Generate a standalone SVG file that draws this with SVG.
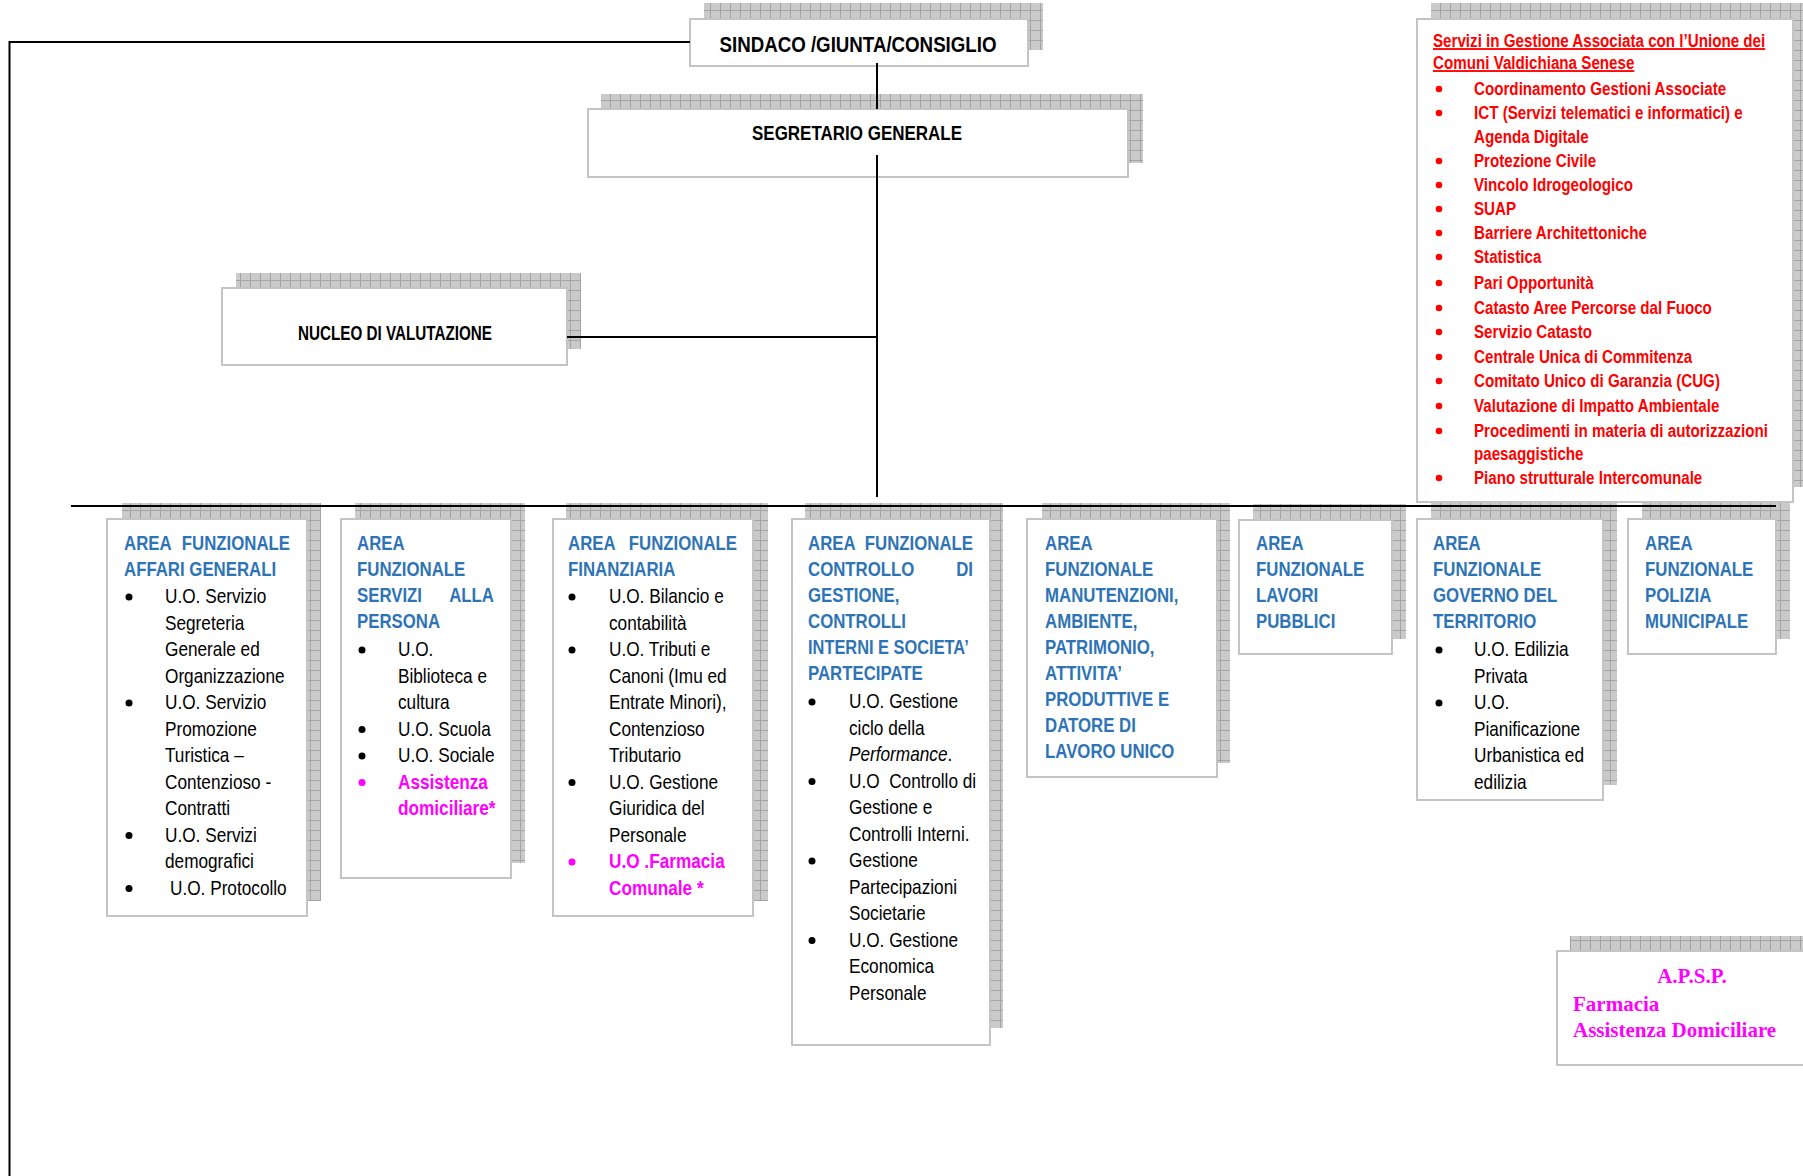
<svg xmlns="http://www.w3.org/2000/svg" width="1803" height="1176" viewBox="0 0 1803 1176">
<defs>
<pattern id="grid" x="0" y="0" width="10" height="10" patternUnits="userSpaceOnUse">
<rect width="10" height="10" fill="#cacaca"/>
<path d="M0 0.5H10M0.5 0V10" stroke="#a4a4a4" stroke-width="1"/>
</pattern>
<style>
.shadow{fill:url(#grid)}
.box{fill:#fff;stroke:#c4c4c4;stroke-width:2}
.hdr{font-family:"Liberation Sans",Arial,sans-serif;font-weight:bold;fill:#000;text-anchor:middle}
.ttl{font-family:"Liberation Sans",Arial,sans-serif;font-weight:bold;font-size:20.5px;fill:#2E74B5}
.txt{font-family:"Liberation Sans",Arial,sans-serif;font-size:21px;fill:#000}
.mag{font-weight:bold;fill:#FF00FF}
.red{font-family:"Liberation Sans",Arial,sans-serif;font-weight:bold;font-size:18.5px;fill:#FF0000}
.end{text-anchor:end}
.ser{font-family:"Liberation Serif","Times New Roman",serif;font-weight:bold;font-size:21px;fill:#FF00FF}
.conn{stroke:#000;stroke-width:2;fill:none}
.b{fill:#000}
.bm{fill:#FF00FF}
.br{fill:#FF0000}
</style>
</defs>
<rect width="1803" height="1176" fill="#fff"/>

<g id="sindaco">
<rect class="shadow" x="704" y="3" width="339" height="47"/>
<rect class="box" x="690" y="19" width="338" height="47"/>
<text class="hdr" x="858" y="52" font-size="22.5" textLength="277" lengthAdjust="spacingAndGlyphs">SINDACO /GIUNTA/CONSIGLIO</text>
</g>

<g id="segretario">
<rect class="shadow" x="601" y="94" width="542" height="69"/>
<rect class="box" x="588" y="109" width="540" height="68"/>
<text class="hdr" x="857" y="140" font-size="20.5" textLength="210" lengthAdjust="spacingAndGlyphs">SEGRETARIO GENERALE</text>
</g>

<g id="nucleo">
<rect class="shadow" x="236" y="273" width="345" height="76"/>
<rect class="box" x="222" y="288" width="345" height="77"/>
<text class="hdr" x="395" y="340" font-size="19.5" textLength="194" lengthAdjust="spacingAndGlyphs">NUCLEO DI VALUTAZIONE</text>
</g>

<g id="servizi-associati">
<rect class="shadow" x="1431" y="3" width="380" height="484"/>
<rect class="box" x="1417" y="19" width="376" height="483"/>
<text class="red" transform="translate(1433,47) scale(0.82,1)" text-decoration="underline">Servizi in Gestione Associata con l’Unione dei</text>
<text class="red" transform="translate(1433,69) scale(0.82,1)" text-decoration="underline">Comuni Valdichiana Senese</text>
<circle class="br" cx="1439" cy="89" r="3.3"/><text class="red" transform="translate(1474,95) scale(0.82,1)">Coordinamento Gestioni Associate</text>
<circle class="br" cx="1439" cy="113" r="3.3"/><text class="red" transform="translate(1474,119) scale(0.82,1)">ICT (Servizi telematici e informatici) e</text>
<text class="red" transform="translate(1474,143) scale(0.82,1)">Agenda Digitale</text>
<circle class="br" cx="1439" cy="161" r="3.3"/><text class="red" transform="translate(1474,167) scale(0.82,1)">Protezione Civile</text>
<circle class="br" cx="1439" cy="185" r="3.3"/><text class="red" transform="translate(1474,191) scale(0.82,1)">Vincolo Idrogeologico</text>
<circle class="br" cx="1439" cy="209" r="3.3"/><text class="red" transform="translate(1474,215) scale(0.82,1)">SUAP</text>
<circle class="br" cx="1439" cy="233" r="3.3"/><text class="red" transform="translate(1474,239) scale(0.82,1)">Barriere Architettoniche</text>
<circle class="br" cx="1439" cy="257" r="3.3"/><text class="red" transform="translate(1474,263) scale(0.82,1)">Statistica</text>
<circle class="br" cx="1439" cy="283" r="3.3"/><text class="red" transform="translate(1474,289) scale(0.82,1)">Pari Opportunità</text>
<circle class="br" cx="1439" cy="308" r="3.3"/><text class="red" transform="translate(1474,314) scale(0.82,1)">Catasto Aree Percorse dal Fuoco</text>
<circle class="br" cx="1439" cy="332" r="3.3"/><text class="red" transform="translate(1474,338) scale(0.82,1)">Servizio Catasto</text>
<circle class="br" cx="1439" cy="357" r="3.3"/><text class="red" transform="translate(1474,363) scale(0.82,1)">Centrale Unica di Commitenza</text>
<circle class="br" cx="1439" cy="381" r="3.3"/><text class="red" transform="translate(1474,387) scale(0.82,1)">Comitato Unico di Garanzia (CUG)</text>
<circle class="br" cx="1439" cy="406" r="3.3"/><text class="red" transform="translate(1474,412) scale(0.82,1)">Valutazione di Impatto Ambientale</text>
<circle class="br" cx="1439" cy="431" r="3.3"/><text class="red" transform="translate(1474,437) scale(0.82,1)">Procedimenti in materia di autorizzazioni</text>
<text class="red" transform="translate(1474,460) scale(0.82,1)">paesaggistiche</text>
<circle class="br" cx="1439" cy="478" r="3.3"/><text class="red" transform="translate(1474,484) scale(0.82,1)">Piano strutturale Intercomunale</text>
</g>

<g id="area-affari-generali">
<rect class="shadow" x="122" y="503" width="199" height="398"/>
<rect class="box" x="107" y="519" width="200" height="397"/>
<text class="ttl" transform="translate(124,550) scale(0.82,1)">AREA</text><text class="ttl end" transform="translate(290,550) scale(0.82,1)">FUNZIONALE</text>
<text class="ttl" transform="translate(124,576) scale(0.82,1)">AFFARI GENERALI</text>
<circle class="b" cx="129" cy="597" r="3.5"/>
<text class="txt" transform="translate(165,603) scale(0.82,1)">U.O. Servizio</text>
<text class="txt" transform="translate(165,629.5) scale(0.82,1)">Segreteria</text>
<text class="txt" transform="translate(165,656) scale(0.82,1)">Generale ed</text>
<text class="txt" transform="translate(165,682.5) scale(0.82,1)">Organizzazione</text>
<circle class="b" cx="129" cy="703" r="3.5"/>
<text class="txt" transform="translate(165,709) scale(0.82,1)">U.O. Servizio</text>
<text class="txt" transform="translate(165,735.5) scale(0.82,1)">Promozione</text>
<text class="txt" transform="translate(165,762) scale(0.82,1)">Turistica –</text>
<text class="txt" transform="translate(165,788.5) scale(0.82,1)">Contenzioso -</text>
<text class="txt" transform="translate(165,815) scale(0.82,1)">Contratti</text>
<circle class="b" cx="129" cy="835.5" r="3.5"/>
<text class="txt" transform="translate(165,841.5) scale(0.82,1)">U.O. Servizi</text>
<text class="txt" transform="translate(165,868) scale(0.82,1)">demografici</text>
<circle class="b" cx="129" cy="888.5" r="3.5"/>
<text class="txt" transform="translate(170,894.5) scale(0.82,1)">U.O. Protocollo</text>
</g>

<g id="area-servizi-persona">
<rect class="shadow" x="355" y="503" width="170" height="360"/>
<rect class="box" x="341" y="519" width="170" height="359"/>
<text class="ttl" transform="translate(357,550) scale(0.82,1)">AREA</text>
<text class="ttl" transform="translate(357,576) scale(0.82,1)">FUNZIONALE</text>
<text class="ttl" transform="translate(357,602) scale(0.82,1)">SERVIZI</text><text class="ttl end" transform="translate(494,602) scale(0.82,1)">ALLA</text>
<text class="ttl" transform="translate(357,628) scale(0.82,1)">PERSONA</text>
<circle class="b" cx="362" cy="650" r="3.5"/>
<text class="txt" transform="translate(398,656) scale(0.82,1)">U.O.</text>
<text class="txt" transform="translate(398,682.5) scale(0.82,1)">Biblioteca e</text>
<text class="txt" transform="translate(398,709) scale(0.82,1)">cultura</text>
<circle class="b" cx="362" cy="729.5" r="3.5"/>
<text class="txt" transform="translate(398,735.5) scale(0.82,1)">U.O. Scuola</text>
<circle class="b" cx="362" cy="756" r="3.5"/>
<text class="txt" transform="translate(398,762) scale(0.82,1)">U.O. Sociale</text>
<circle class="bm" cx="362" cy="782.5" r="3.5"/>
<text class="txt mag" transform="translate(398,788.5) scale(0.82,1)">Assistenza</text>
<text class="txt mag" transform="translate(398,815) scale(0.82,1)">domiciliare*</text>
</g>

<g id="area-finanziaria">
<rect class="shadow" x="566" y="503" width="202" height="398"/>
<rect class="box" x="553" y="519" width="200" height="397"/>
<text class="ttl" transform="translate(568,550) scale(0.82,1)">AREA</text><text class="ttl end" transform="translate(737,550) scale(0.82,1)">FUNZIONALE</text>
<text class="ttl" transform="translate(568,576) scale(0.82,1)">FINANZIARIA</text>
<circle class="b" cx="572" cy="597" r="3.5"/>
<text class="txt" transform="translate(609,603) scale(0.82,1)">U.O. Bilancio e</text>
<text class="txt" transform="translate(609,629.5) scale(0.82,1)">contabilità</text>
<circle class="b" cx="572" cy="650" r="3.5"/>
<text class="txt" transform="translate(609,656) scale(0.82,1)">U.O. Tributi e</text>
<text class="txt" transform="translate(609,682.5) scale(0.82,1)">Canoni (Imu ed</text>
<text class="txt" transform="translate(609,709) scale(0.82,1)">Entrate Minori),</text>
<text class="txt" transform="translate(609,735.5) scale(0.82,1)">Contenzioso</text>
<text class="txt" transform="translate(609,762) scale(0.82,1)">Tributario</text>
<circle class="b" cx="572" cy="782.5" r="3.5"/>
<text class="txt" transform="translate(609,788.5) scale(0.82,1)">U.O. Gestione</text>
<text class="txt" transform="translate(609,815) scale(0.82,1)">Giuridica del</text>
<text class="txt" transform="translate(609,841.5) scale(0.82,1)">Personale</text>
<circle class="bm" cx="572" cy="862" r="3.5"/>
<text class="txt mag" transform="translate(609,868) scale(0.82,1)">U.O .Farmacia</text>
<text class="txt mag" transform="translate(609,894.5) scale(0.82,1)">Comunale *</text>
</g>

<g id="area-controllo-gestione">
<rect class="shadow" x="805" y="503" width="198" height="525"/>
<rect class="box" x="792" y="519" width="198" height="526"/>
<text class="ttl" transform="translate(808,550) scale(0.82,1)">AREA</text><text class="ttl end" transform="translate(973,550) scale(0.82,1)">FUNZIONALE</text>
<text class="ttl" transform="translate(808,576) scale(0.82,1)">CONTROLLO</text><text class="ttl end" transform="translate(973,576) scale(0.82,1)">DI</text>
<text class="ttl" transform="translate(808,602) scale(0.82,1)">GESTIONE,</text>
<text class="ttl" transform="translate(808,628) scale(0.82,1)">CONTROLLI</text>
<text class="ttl" transform="translate(808,654) scale(0.8,1)">INTERNI E SOCIETA’</text>
<text class="ttl" transform="translate(808,680) scale(0.82,1)">PARTECIPATE</text>
<circle class="b" cx="812" cy="702" r="3.5"/>
<text class="txt" transform="translate(849,708) scale(0.82,1)">U.O. Gestione</text>
<text class="txt" transform="translate(849,734.5) scale(0.82,1)">ciclo della</text>
<text class="txt" transform="translate(849,761) scale(0.82,1)"><tspan font-style="italic">Performance</tspan>.</text>
<circle class="b" cx="812" cy="781.5" r="3.5"/>
<text class="txt" transform="translate(849,787.5) scale(0.82,1)" xml:space="preserve">U.O  Controllo di</text>
<text class="txt" transform="translate(849,814) scale(0.82,1)">Gestione e</text>
<text class="txt" transform="translate(849,840.5) scale(0.82,1)">Controlli Interni.</text>
<circle class="b" cx="812" cy="861" r="3.5"/>
<text class="txt" transform="translate(849,867) scale(0.82,1)">Gestione</text>
<text class="txt" transform="translate(849,893.5) scale(0.82,1)">Partecipazioni</text>
<text class="txt" transform="translate(849,920) scale(0.82,1)">Societarie</text>
<circle class="b" cx="812" cy="940.5" r="3.5"/>
<text class="txt" transform="translate(849,946.5) scale(0.82,1)">U.O. Gestione</text>
<text class="txt" transform="translate(849,973) scale(0.82,1)">Economica</text>
<text class="txt" transform="translate(849,999.5) scale(0.82,1)">Personale</text>
</g>

<g id="area-manutenzioni">
<rect class="shadow" x="1042" y="503" width="188" height="260"/>
<rect class="box" x="1027" y="519" width="190" height="258"/>
<text class="ttl" transform="translate(1045,550) scale(0.82,1)">AREA</text>
<text class="ttl" transform="translate(1045,576) scale(0.82,1)">FUNZIONALE</text>
<text class="ttl" transform="translate(1045,602) scale(0.82,1)">MANUTENZIONI,</text>
<text class="ttl" transform="translate(1045,628) scale(0.82,1)">AMBIENTE,</text>
<text class="ttl" transform="translate(1045,654) scale(0.82,1)">PATRIMONIO,</text>
<text class="ttl" transform="translate(1045,680) scale(0.82,1)">ATTIVITA’</text>
<text class="ttl" transform="translate(1045,706) scale(0.82,1)">PRODUTTIVE E</text>
<text class="ttl" transform="translate(1045,732) scale(0.82,1)">DATORE DI</text>
<text class="ttl" transform="translate(1045,758) scale(0.82,1)">LAVORO UNICO</text>
</g>

<g id="area-lavori-pubblici">
<rect class="shadow" x="1253" y="504" width="153" height="135"/>
<rect class="box" x="1239" y="520" width="153" height="134"/>
<text class="ttl" transform="translate(1256,550) scale(0.82,1)">AREA</text>
<text class="ttl" transform="translate(1256,576) scale(0.82,1)">FUNZIONALE</text>
<text class="ttl" transform="translate(1256,602) scale(0.82,1)">LAVORI</text>
<text class="ttl" transform="translate(1256,628) scale(0.82,1)">PUBBLICI</text>
</g>

<g id="area-governo-territorio">
<rect class="shadow" x="1431" y="503" width="186" height="282"/>
<rect class="box" x="1417" y="519" width="186" height="281"/>
<text class="ttl" transform="translate(1433,550) scale(0.82,1)">AREA</text>
<text class="ttl" transform="translate(1433,576) scale(0.82,1)">FUNZIONALE</text>
<text class="ttl" transform="translate(1433,602) scale(0.82,1)">GOVERNO DEL</text>
<text class="ttl" transform="translate(1433,628) scale(0.82,1)">TERRITORIO</text>
<circle class="b" cx="1439" cy="650" r="3.5"/>
<text class="txt" transform="translate(1474,656) scale(0.82,1)">U.O. Edilizia</text>
<text class="txt" transform="translate(1474,682.5) scale(0.82,1)">Privata</text>
<circle class="b" cx="1439" cy="703" r="3.5"/>
<text class="txt" transform="translate(1474,709) scale(0.82,1)">U.O.</text>
<text class="txt" transform="translate(1474,735.5) scale(0.82,1)">Pianificazione</text>
<text class="txt" transform="translate(1474,762) scale(0.82,1)">Urbanistica ed</text>
<text class="txt" transform="translate(1474,788.5) scale(0.82,1)">edilizia</text>
</g>

<g id="area-polizia-municipale">
<rect class="shadow" x="1642" y="503" width="148" height="136"/>
<rect class="box" x="1628" y="519" width="148" height="135"/>
<text class="ttl" transform="translate(1645,550) scale(0.82,1)">AREA</text>
<text class="ttl" transform="translate(1645,576) scale(0.82,1)">FUNZIONALE</text>
<text class="ttl" transform="translate(1645,602) scale(0.82,1)">POLIZIA</text>
<text class="ttl" transform="translate(1645,628) scale(0.82,1)">MUNICIPALE</text>
</g>

<g id="apsp">
<rect class="shadow" x="1570" y="936" width="240" height="114"/>
<rect class="box" x="1557" y="951" width="260" height="114"/>
<text class="ser" x="1692" y="983" text-anchor="middle">A.P.S.P.</text>
<text class="ser" x="1573" y="1011">Farmacia</text>
<text class="ser" x="1573" y="1037">Assistenza Domiciliare</text>
</g>

<g id="connectors">
<polyline class="conn" points="690,42 9.5,42 9.5,1176"/>
<line class="conn" x1="877" y1="63" x2="877" y2="109"/>
<line class="conn" x1="877" y1="155" x2="877" y2="497"/>
<line class="conn" x1="567" y1="337" x2="877" y2="337"/>
<line class="conn" x1="71" y1="506" x2="1776" y2="506"/>
</g>
</svg>
